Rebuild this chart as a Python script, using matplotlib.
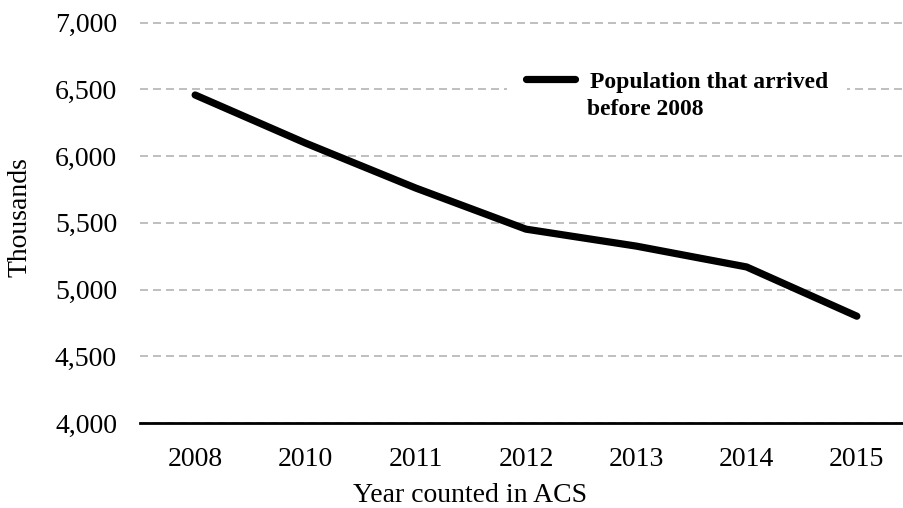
import matplotlib
matplotlib.use("Agg")
import matplotlib.pyplot as plt

years = ["2008", "2010", "2011", "2012", "2013", "2014", "2015"]
population = [6457, 6097, 5760, 5452, 5325, 5169, 4800]
y_ticks = [4000, 4500, 5000, 5500, 6000, 6500, 7000]
series_label = "Population that arrived"
series_label_2 = "before 2008"

plt.rcParams["font.family"] = ["Liberation Serif", "DejaVu Serif"]

W, H, DPI = 904, 508, 100
fig = plt.figure(figsize=(W / DPI, H / DPI), dpi=DPI)
ax_left, ax_right, ax_bottom, ax_top = 140, 912, 423, 22.5
ax = fig.add_axes([ax_left / W, 1 - ax_bottom / H,
                   (ax_right - ax_left) / W, (ax_bottom - ax_top) / H])

x = list(range(len(years)))
line, = ax.plot(x, population, color="black", lw=5.2,
                solid_capstyle="round", solid_joinstyle="round",
                label=series_label, zorder=3)

ax.set_xlim(-0.5, len(years) - 0.5)
ax.set_ylim(4000, 7000)
ax.set_xticks(x)
ax.set_xticklabels(years)
ax.set_yticks(y_ticks)
ax.set_yticklabels([f"{v:,}" for v in y_ticks])
ax.tick_params(axis="both", length=0, labelsize=20)
ax.tick_params(axis="x", pad=17)
ax.tick_params(axis="y", pad=16.5)

ax.yaxis.grid(True, color="#c0c0c0", lw=1.44, linestyle=(0, (4, 2.5)))
ax.set_axisbelow(True)
for s in ["top", "right", "left"]:
    ax.spines[s].set_visible(False)
ax.spines["bottom"].set_linewidth(2.0)
ax.spines["bottom"].set_color("black")
ax.spines["bottom"].set_zorder(4)

aw = ax_right - ax_left
ah = ax_bottom - ax_top
ax.set_xlabel("Year counted in ACS", fontsize=20)
ax.xaxis.label.set_va("center")
ax.xaxis.set_label_coords((470 - ax_left) / aw, (ax_bottom - 495) / ah)
ax.set_ylabel("Thousands", fontsize=20)
ax.yaxis.label.set_va("center")
ax.yaxis.set_label_coords((20 - ax_left) / aw, (ax_bottom - 217) / ah)

leg = fig.legend(handles=[line], loc="center left",
                 bbox_to_anchor=(507 / W, 1 - 82 / H),
                 bbox_transform=fig.transFigure, borderaxespad=0,
                 frameon=True, fancybox=False, framealpha=1,
                 prop={"weight": "bold", "size": 17},
                 handlelength=2.1, handletextpad=0.6, borderpad=0.8)
leg.get_frame().set_edgecolor("none")
leg.get_frame().set_facecolor("white")
leg.get_lines()[0].set_linewidth(5.2)
leg.set_zorder(5)

fig.text(587 / W, 1 - 109 / H, series_label_2, fontsize=17,
         fontweight="bold", va="center", ha="left", zorder=10)

fig.savefig("out.png", dpi=DPI)
